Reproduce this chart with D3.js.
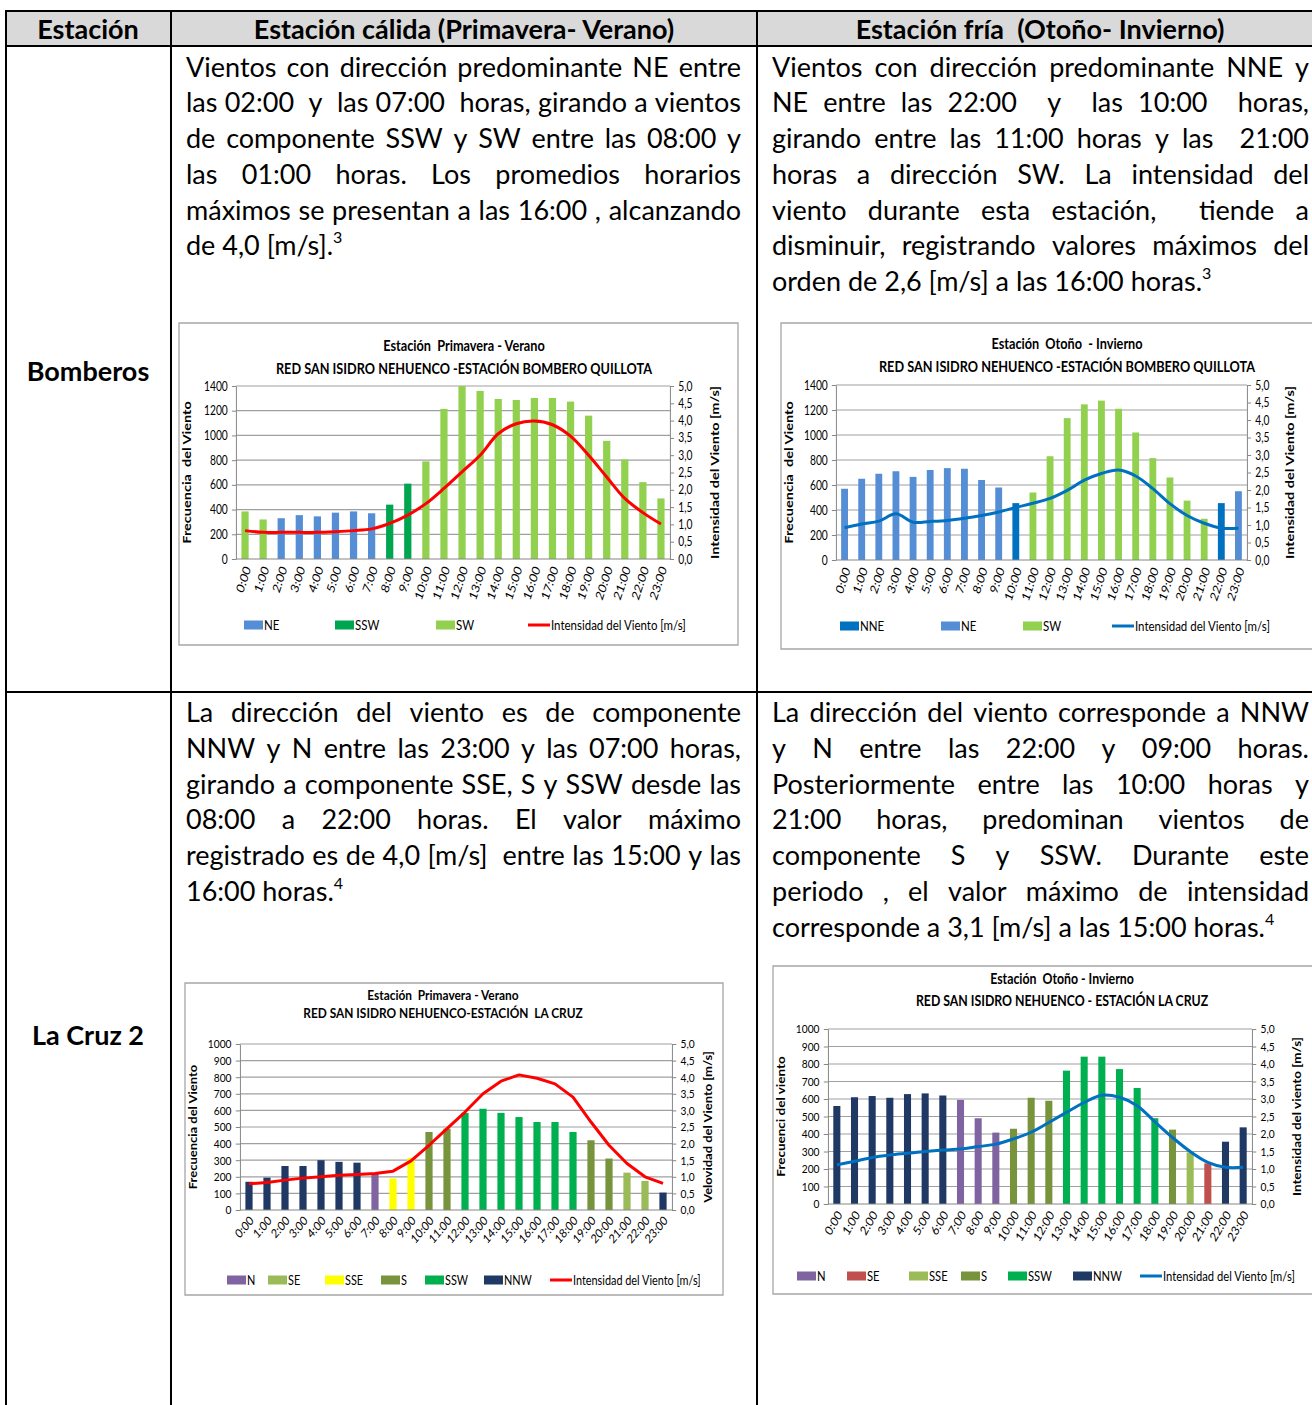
<!DOCTYPE html>
<html>
<head>
<meta charset="utf-8">
<script src="https://cdn.jsdelivr.net/npm/d3@7"></script>
<style>
  body { margin: 0; background: #fff; }
  svg { display: block; font-family: Lato, "Open Sans", sans-serif; }
</style>
</head>
<body>
<div id="page"></div>
<script>
// ---------- data ----------
const hourLabels = ["0:00","1:00","2:00","3:00","4:00","5:00","6:00","7:00","8:00","9:00","10:00","11:00",
                    "12:00","13:00","14:00","15:00","16:00","17:00","18:00","19:00","20:00","21:00","22:00","23:00"];
const freqTicks1400 = [0, 200, 400, 600, 800, 1000, 1200, 1400];
const freqTicks1000 = [0, 100, 200, 300, 400, 500, 600, 700, 800, 900, 1000];
const speedTicks = [0, 0.5, 1, 1.5, 2, 2.5, 3, 3.5, 4, 4.5, 5];

// Bomberos - primavera/verano
const bomWarmFreq  = [385, 320, 330, 355, 345, 375, 385, 370, 440, 610, 790, 1215,
                      1400, 1360, 1295, 1287, 1303, 1303, 1274, 1160, 956, 805, 622, 490];
const bomWarmDir   = ["SW","SW","NE","NE","NE","NE","NE","NE","SSW","SSW","SW","SW",
                      "SW","SW","SW","SW","SW","SW","SW","SW","SW","SW","SW","SW"];
const bomWarmSpeed = [0.82, 0.77, 0.77, 0.77, 0.77, 0.79, 0.82, 0.87, 1.03, 1.27, 1.6, 2.04,
                      2.52, 3.0, 3.62, 3.91, 3.99, 3.88, 3.55, 3.0, 2.37, 1.75, 1.34, 1.01];
const bomWarmLegend = ["NE", "SSW", "SW"];

// Bomberos - otoño/invierno
const bomColdFreq  = [570, 650, 690, 710, 665, 720, 735, 730, 640, 580, 455, 540,
                      830, 1135, 1245, 1275, 1210, 1020, 815, 660, 475, 330, 455, 550];
const bomColdDir   = ["NE","NE","NE","NE","NE","NE","NE","NE","NE","NE","NNE","SW",
                      "SW","SW","SW","SW","SW","SW","SW","SW","SW","SW","NNE","NE"];
const bomColdSpeed = [0.92, 1.03, 1.11, 1.32, 1.08, 1.1, 1.13, 1.19, 1.27, 1.37, 1.5, 1.62,
                      1.76, 1.99, 2.28, 2.47, 2.57, 2.4, 2.04, 1.61, 1.27, 1.05, 0.91, 0.91];
const bomColdLegend = ["NNE", "NE", "SW"];

// La Cruz - primavera/verano
const cruzWarmFreq  = [170, 195, 265, 265, 300, 290, 285, 220, 190, 315, 470, 490,
                       585, 610, 585, 560, 530, 530, 470, 420, 310, 225, 175, 105];
const cruzWarmDir   = ["NNW","NNW","NNW","NNW","NNW","NNW","NNW","N","SSE","SSE","S","S",
                       "SSW","SSW","SSW","SSW","SSW","SSW","SSW","S","S","SE","SE","NNW"];
const cruzWarmSpeed = [0.79, 0.83, 0.9, 0.96, 1.0, 1.05, 1.07, 1.1, 1.17, 1.48, 1.95, 2.45,
                       2.95, 3.5, 3.88, 4.07, 3.97, 3.8, 3.4, 2.65, 1.95, 1.4, 1.0, 0.8];
const cruzWarmLegend = ["N", "SE", "SSE", "S", "SSW", "NNW"];

// La Cruz - otoño/invierno
const cruzColdFreq  = [560, 610, 617, 607, 628, 632, 620, 595, 490, 408, 430, 607,
                       590, 762, 842, 842, 771, 663, 490, 425, 295, 232, 356, 438];
const cruzColdDir   = ["NNW","NNW","NNW","NNW","NNW","NNW","NNW","N","N","N","S","S",
                       "S","SSW","SSW","SSW","SSW","SSW","SSW","S","SSE","SE","NNW","NNW"];
const cruzColdSpeed = [1.12, 1.22, 1.33, 1.4, 1.45, 1.5, 1.54, 1.57, 1.64, 1.71, 1.86, 2.05,
                       2.33, 2.62, 2.9, 3.11, 3.05, 2.81, 2.35, 1.9, 1.5, 1.19, 1.05, 1.05];
const cruzColdLegend = ["N", "SE", "SSE", "S", "SSW", "NNW"];

// table text
const headers = ["Estación", "Estación cálida (Primavera- Verano)", "Estación fría  (Otoño- Invierno)"];
const rowNames = ["Bomberos", "La Cruz 2"];
const txtBomWarm = ["Vientos con dirección predominante NE entre",
  "las 02:00  y  las 07:00  horas, girando a vientos",
  "de componente SSW y SW entre las 08:00 y",
  "las 01:00 horas. Los promedios horarios",
  "máximos se presentan a las 16:00 , alcanzando",
  "de 4,0 [m/s]."];
const txtBomCold = ["Vientos con dirección predominante NNE y",
  "NE entre las 22:00  y  las 10:00  horas,",
  "girando entre las 11:00 horas y las  21:00",
  "horas a dirección SW. La intensidad del",
  "viento durante esta estación,  tiende a",
  "disminuir, registrando valores máximos del",
  "orden de 2,6 [m/s] a las 16:00 horas."];
const txtCruzWarm = ["La dirección del viento es de componente",
  "NNW y N entre las 23:00 y las 07:00 horas,",
  "girando a componente SSE, S y SSW desde las",
  "08:00 a 22:00 horas. El valor máximo",
  "registrado es de 4,0 [m/s]  entre las 15:00 y las",
  "16:00 horas."];
const txtCruzCold = ["La dirección del viento corresponde a NNW",
  "y N entre las 22:00 y 09:00 horas.",
  "Posteriormente entre las 10:00 horas y",
  "21:00 horas, predominan vientos de",
  "componente S y SSW. Durante este",
  "periodo , el valor máximo de intensidad",
  "corresponde a 3,1 [m/s] a las 15:00 horas."];

// ---------- page ----------
const W = 1312, H = 1405;
const svg = d3.select("#page").append("svg").attr("width", W).attr("height", H);
svg.append("rect").attr("width", W).attr("height", H).attr("fill", "#fff");

// header band
svg.append("rect").attr("x", 6).attr("y", 11).attr("width", W).attr("height", 35).attr("fill", "#d9d9d9");

const colX = [6, 171, 757];
const headerCx = [88, 464, 1040];
headers.forEach((h, i) => {
  svg.append("text").attr("x", headerCx[i]).attr("y", 38.5)
     .attr("text-anchor", "middle").attr("font-weight", "bold").attr("font-size", 27)
     .style("white-space", "pre").text(h);
});
svg.append("text").attr("x", 88).attr("y", 380.5).attr("text-anchor", "middle")
   .attr("font-weight", "bold").attr("font-size", 27).text(rowNames[0]);
svg.append("text").attr("x", 88).attr("y", 1044.5).attr("text-anchor", "middle")
   .attr("font-weight", "bold").attr("font-size", 27).text(rowNames[1]);

// justified paragraph, one line at a time
const bodySize = 27;
function paragraph(lines, x0, width, y0, sup) {
  const lh = 35.75;
  lines.forEach((str, k) => {
    const y = y0 + k * lh;
    const t = svg.append("text").attr("y", y).attr("font-size", bodySize).attr("fill", "#000");
    const last = k === lines.length - 1;
    if (last) {
      t.attr("x", x0).style("white-space", "pre").text(str);
      t.append("tspan").attr("font-size", 16).attr("dy", -12).text(sup);
      return;
    }
    const tokens = str.split(" ");
    const widths = tokens.map(w => {
      const s = t.append("tspan").text(w);
      const l = w ? s.node().getComputedTextLength() : 0;
      s.remove();
      return l;
    });
    const gap = (width - d3.sum(widths)) / (tokens.length - 1);
    let cx = x0;
    tokens.forEach((w, j) => {
      if (w) t.append("tspan").attr("x", cx).text(w);
      cx += widths[j] + gap;
    });
  });
}
paragraph(txtBomWarm, 186, 555, 76.5, "3");
paragraph(txtBomCold, 772, 537, 76.5, "3");
paragraph(txtCruzWarm, 186, 555, 722, "4");
paragraph(txtCruzCold, 772, 537, 722, "4");

// ---------- charts ----------
function drawChart(c) {
  const sx = c.sx;
  const vx = rx => (rx - c.box[0]) / sx;
  const vy = ry => ry - c.box[1];
  const g = svg.append("g").attr("transform", `translate(${c.box[0]},${c.box[1]}) scale(${sx},1)`);

  g.append("rect").attr("width", c.box[2] / sx).attr("height", c.box[3])
   .attr("fill", "#fff").attr("stroke", "#a6a6a6").attr("stroke-width", 1.3)
   .attr("vector-effect", "non-scaling-stroke");

  const x = d3.scaleBand().domain(hourLabels)
              .range([vx(c.plot.left), vx(c.plot.right)])
              .paddingInner(c.pad).paddingOuter(c.pad / 2);
  const yL = d3.scaleLinear().domain([0, c.maxFreq]).range([vy(c.plot.bottom), vy(c.plot.top)]);
  const yR = d3.scaleLinear().domain([0, 5]).range([vy(c.plot.bottom), vy(c.plot.top)]);

  // gridlines
  g.append("g").selectAll("line").data(c.freqTicks.filter(d => d > 0)).join("line")
   .attr("x1", vx(c.plot.left)).attr("x2", vx(c.plot.right))
   .attr("y1", d => yL(d)).attr("y2", d => yL(d))
   .attr("stroke", "#a0a0a0").attr("stroke-width", 1.2).attr("vector-effect", "non-scaling-stroke");

  // bars
  g.append("g").selectAll("rect").data(c.freq).join("rect")
   .attr("x", (d, i) => x(hourLabels[i])).attr("width", x.bandwidth())
   .attr("y", d => yL(d)).attr("height", d => yL(0) - yL(d))
   .attr("fill", (d, i) => c.colors[c.dirs[i]]);

  // axes
  const styleAxis = sel => {
    sel.selectAll("path, line").attr("stroke", "#868686").attr("vector-effect", "non-scaling-stroke");
    sel.selectAll("text").attr("font-family", "Lato").attr("font-size", c.tickSize).attr("fill", "#000");
  };
  g.append("g").attr("transform", `translate(${vx(c.plot.left)},0)`)
   .call(d3.axisLeft(yL).tickValues(c.freqTicks).tickFormat(d3.format("d"))
           .tickSize(5).tickSizeOuter(0).tickPadding(5))
   .call(styleAxis);
  g.append("g").attr("transform", `translate(${vx(c.plot.right)},0)`)
   .call(d3.axisRight(yR).tickValues(speedTicks).tickSize(5).tickSizeOuter(0).tickPadding(5)
           .tickFormat(d => d3.format(".1f")(d).replace(".", ",")))
   .call(styleAxis);
  g.append("line").attr("x1", vx(c.plot.left)).attr("x2", vx(c.plot.right))
   .attr("y1", yL(0)).attr("y2", yL(0)).attr("stroke", "#868686").attr("vector-effect", "non-scaling-stroke");

  // hour labels
  g.append("g").selectAll("text").data(hourLabels).join("text")
   .attr("transform", d => `translate(${x(d) + x.bandwidth() / 2 + c.labelDx},${yL(0) + 8}) rotate(${c.labelAngle})`)
   .attr("text-anchor", "end").attr("dominant-baseline", "central")
   .attr("font-size", c.labelSize).text(d => d);

  // intensity line
  const line = d3.line().x((d, i) => x(hourLabels[i]) + x.bandwidth() / 2).y(d => yR(d)).curve(c.curve);
  g.append("path").datum(c.speed).attr("d", line).attr("fill", "none")
   .attr("stroke", c.lineColor).attr("stroke-width", 3).attr("stroke-linejoin", "round")
   .attr("vector-effect", "non-scaling-stroke");

  // titles
  c.titles.forEach((t, i) => {
    g.append("text").attr("x", vx(c.titleCx)).attr("y", vy(c.titleY[i]))
     .attr("text-anchor", "middle").attr("font-weight", "bold").attr("font-size", c.titleSize)
     .style("white-space", "pre").text(t);
  });
  const midY = vy((c.plot.top + c.plot.bottom) / 2);
  g.append("text").attr("transform", `translate(${vx(c.leftTitleX)},${midY}) rotate(-90)`)
   .attr("text-anchor", "middle").attr("dominant-baseline", "central")
   .attr("font-weight", "bold").attr("font-size", c.axisTitleSize).style("white-space", "pre").text(c.leftTitle);
  g.append("text").attr("transform", `translate(${vx(c.rightTitleX)},${midY}) rotate(-90)`)
   .attr("text-anchor", "middle").attr("dominant-baseline", "central")
   .attr("font-weight", "bold").attr("font-size", c.axisTitleSize).text(c.rightTitle);

  // legend
  const ly = vy(c.legendY);
  c.legend.forEach((k, i) => {
    g.append("rect").attr("x", vx(c.legendX[i])).attr("y", ly - 4.5)
     .attr("width", 19 / sx).attr("height", 9).attr("fill", c.colors[k]);
    g.append("text").attr("x", vx(c.legendX[i] + 20)).attr("y", ly)
     .attr("dominant-baseline", "central").attr("font-size", c.legendSize).text(k);
  });
  g.append("line").attr("x1", vx(c.legendLineX)).attr("x2", vx(c.legendLineX + 22))
   .attr("y1", ly).attr("y2", ly).attr("stroke", c.lineColor).attr("stroke-width", 3)
   .attr("vector-effect", "non-scaling-stroke");
  g.append("text").attr("x", vx(c.legendLineX + 23)).attr("y", ly)
   .attr("dominant-baseline", "central").attr("font-size", c.legendSize).text("Intensidad del Viento [m/s]");
}

drawChart({
  box: [179, 323, 559, 322], plot: { left: 236, right: 670, top: 386, bottom: 559 }, sx: 0.82,
  freq: bomWarmFreq, dirs: bomWarmDir, speed: bomWarmSpeed, legend: bomWarmLegend,
  colors: { NE: "#558ed5", SSW: "#00a550", SW: "#92d050" }, lineColor: "#ff0000",
  maxFreq: 1400, freqTicks: freqTicks1400, pad: 0.6, curve: d3.curveCatmullRom.alpha(0.5),
  titles: ["Estación  Primavera - Verano", "RED SAN ISIDRO NEHUENCO -ESTACIÓN BOMBERO QUILLOTA"],
  titleCx: 464, titleY: [351, 374], titleSize: 15.5,
  leftTitle: "Frecuencia  del Viento", rightTitle: "Intensidad del Viento [m/s]",
  leftTitleX: 187, rightTitleX: 715, axisTitleSize: 14.5,
  tickSize: 12.5, labelSize: 13.5, labelAngle: -68, labelDx: 3,
  legendY: 625, legendX: [244, 335, 436], legendLineX: 528, legendSize: 14
});

drawChart({
  box: [781, 323, 540, 326], plot: { left: 836, right: 1247, top: 385, bottom: 560 }, sx: 0.82,
  freq: bomColdFreq, dirs: bomColdDir, speed: bomColdSpeed, legend: bomColdLegend,
  colors: { NNE: "#0070c0", NE: "#558ed5", SW: "#92d050" }, lineColor: "#0070c0",
  maxFreq: 1400, freqTicks: freqTicks1400, pad: 0.6, curve: d3.curveCatmullRom.alpha(0.5),
  titles: ["Estación  Otoño  - Invierno", "RED SAN ISIDRO NEHUENCO -ESTACIÓN BOMBERO QUILLOTA"],
  titleCx: 1067, titleY: [349, 372], titleSize: 15.5,
  leftTitle: "Frecuencia  del Viento", rightTitle: "Intensidad del Viento [m/s]",
  leftTitleX: 789, rightTitleX: 1290, axisTitleSize: 14.5,
  tickSize: 12.5, labelSize: 13.5, labelAngle: -68, labelDx: 3,
  legendY: 626, legendX: [840, 941, 1023], legendLineX: 1112, legendSize: 14
});

drawChart({
  box: [185, 983, 538, 312], plot: { left: 240, right: 672, top: 1044, bottom: 1210 }, sx: 0.85,
  freq: cruzWarmFreq, dirs: cruzWarmDir, speed: cruzWarmSpeed, legend: cruzWarmLegend,
  colors: { N: "#8064a2", SE: "#9bbb59", SSE: "#ffff00", S: "#77933c", SSW: "#00b050", NNW: "#1f3864" },
  lineColor: "#ff0000",
  maxFreq: 1000, freqTicks: freqTicks1000, pad: 0.6, curve: d3.curveLinear,
  titles: ["Estación  Primavera - Verano", "RED SAN ISIDRO NEHUENCO-ESTACIÓN  LA CRUZ"],
  titleCx: 443, titleY: [1000, 1018], titleSize: 14,
  leftTitle: "Frecuencia del Viento", rightTitle: "Velovidad del Viento [m/s]",
  leftTitleX: 193, rightTitleX: 708, axisTitleSize: 13,
  tickSize: 12, labelSize: 12.5, labelAngle: -45, labelDx: 3,
  legendY: 1280, legendX: [227, 268, 325, 381, 425, 484], legendLineX: 550, legendSize: 12.8
});

drawChart({
  box: [773, 966, 540, 328], plot: { left: 828, right: 1252, top: 1029, bottom: 1204 }, sx: 0.85,
  freq: cruzColdFreq, dirs: cruzColdDir, speed: cruzColdSpeed, legend: cruzColdLegend,
  colors: { N: "#8064a2", SE: "#c0504d", SSE: "#9bbb59", S: "#77933c", SSW: "#00b050", NNW: "#1f3864" },
  lineColor: "#0070c0",
  maxFreq: 1000, freqTicks: freqTicks1000, pad: 0.6, curve: d3.curveCatmullRom.alpha(0.5),
  titles: ["Estación  Otoño - Invierno", "RED SAN ISIDRO NEHUENCO - ESTACIÓN LA CRUZ"],
  titleCx: 1062, titleY: [984, 1006], titleSize: 14.5,
  leftTitle: "Frecuenci del viento", rightTitle: "Intensidad del viento [m/s]",
  leftTitleX: 781, rightTitleX: 1297, axisTitleSize: 13.5,
  tickSize: 12, labelSize: 13, labelAngle: -56, labelDx: 3,
  legendY: 1276, legendX: [797, 847, 909, 961, 1008, 1073], legendLineX: 1140, legendSize: 13.2
});

// table rules
const rule = (x1, y1, x2, y2) => svg.append("line").attr("x1", x1).attr("y1", y1).attr("x2", x2).attr("y2", y2)
  .attr("stroke", "#000").attr("stroke-width", 2);
rule(5, 11, W, 11);
rule(5, 46, W, 46);
rule(5, 692, W, 692);
colX.forEach(cx => rule(cx, 10, cx, H));
</script>
</body>
</html>
